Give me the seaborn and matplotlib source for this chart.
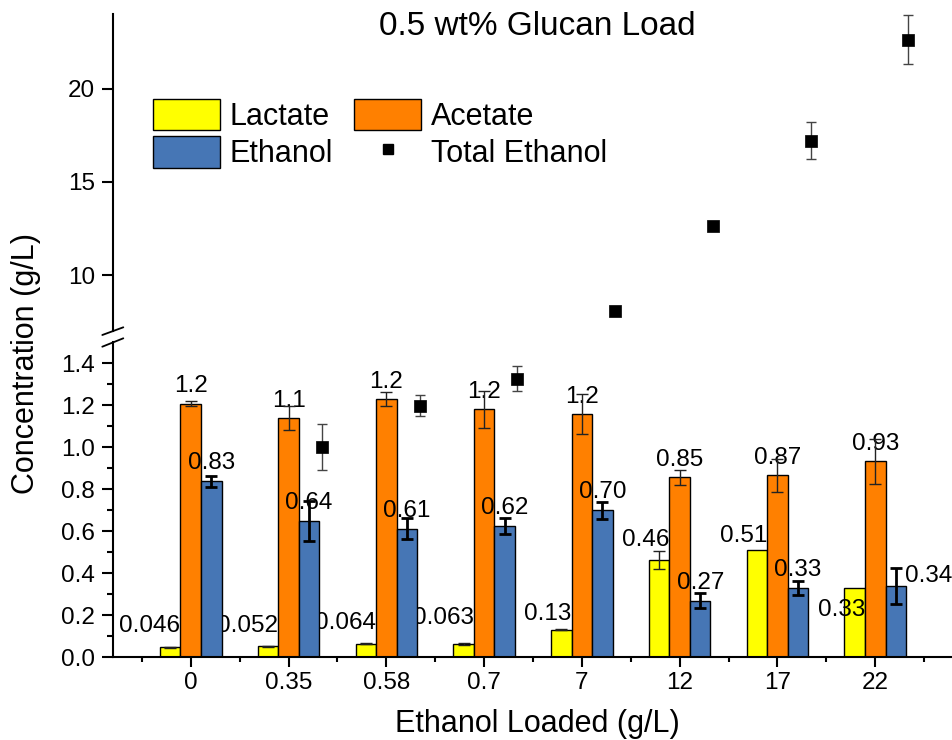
import numpy as np
import pandas as pd
import matplotlib
matplotlib.use("Agg")
import matplotlib.pyplot as plt
from matplotlib.patches import Patch
from matplotlib.lines import Line2D
import seaborn as sns

# ---------------- data ----------------
categories = ['0', '0.35', '0.58', '0.7', '7', '12', '17', '22']
lactate = [0.046, 0.052, 0.064, 0.063, 0.13, 0.46, 0.51, 0.33]
lactate_err = [0.003, 0.002, 0.003, 0.006, 0.003, 0.043, 0.0, 0.0]
acetate = [1.207, 1.137, 1.227, 1.180, 1.156, 0.855, 0.866, 0.931]
acetate_err = [0.013, 0.058, 0.034, 0.089, 0.096, 0.034, 0.078, 0.109]
ethanol = [0.836, 0.646, 0.610, 0.624, 0.698, 0.268, 0.330, 0.339]
ethanol_err = [0.026, 0.095, 0.050, 0.037, 0.041, 0.037, 0.034, 0.087]
total_ethanol = [np.nan, 1.00, 1.197, 1.325, 8.06, 12.63, 17.2, 22.63]
total_ethanol_err = [np.nan, 0.11, 0.05, 0.06, 0.0, 0.0, 1.0, 1.3]

lactate_labels = ['0.046', '0.052', '0.064', '0.063', '0.13', '0.46', '0.51', '0.33']
acetate_labels = ['1.2', '1.1', '1.2', '1.2', '1.2', '0.85', '0.87', '0.93']
ethanol_labels = ['0.83', '0.64', '0.61', '0.62', '0.70', '0.27', '0.33', '0.34']

species = ['Lactate', 'Acetate', 'Ethanol']
colors = ['#FFFF00', '#FF8000', '#4676B5']

# label offsets (pixels) - style only
lac_dy = [15, 14, 15, 20, 10, 14, 8, -28]

# ---------------- style ----------------
sns.set_style("ticks")
plt.rcParams['font.family'] = ['Liberation Sans', 'DejaVu Sans']
plt.rcParams['axes.linewidth'] = 1.5
for k in ['text.color', 'axes.labelcolor', 'xtick.color', 'ytick.color', 'axes.edgecolor']:
    plt.rcParams[k] = 'black'
PX = 0.72  # points per pixel at dpi 100

W, H = 953, 740
fig = plt.figure(figsize=(W / 100, H / 100), dpi=100)

left = 113 / W
width = 1.0 - left + 0.001
ax_top = fig.add_axes([left, 1 - 331 / H, width, (331 - 14) / H])
ax_bot = fig.add_axes([left, 1 - 657 / H, width, (657 - 342) / H])

df = pd.DataFrame({
    'Ethanol Loaded': categories * 3,
    'Concentration': lactate + acetate + ethanol,
    'Species': [s for s in species for _ in categories],
})

sns.barplot(data=df, x='Ethanol Loaded', y='Concentration', hue='Species',
            order=categories, hue_order=species, palette=colors, width=0.63,
            saturation=1, edgecolor='black', linewidth=1.0, errorbar=None,
            legend=False, ax=ax_bot)

# bar centers from the drawn patches
bars = [p for p in ax_bot.patches if p.get_height() > 0]
bars = sorted(bars, key=lambda p: p.get_x())
centers = np.array([p.get_x() + p.get_width() / 2 for p in bars]).reshape(len(categories), 3)
bw = bars[0].get_width()
for j, p in enumerate(bars):
    p.set_zorder(1.0 if j % 3 == 0 else 2.0)

# error bars
err_specs = [
    (lactate, lactate_err, 0, '#222222', 1.0),
    (acetate, acetate_err, 1, '#222222', 1.0),
    (ethanol, ethanol_err, 2, '#000000', 2.0),
]
for vals, errs, k, c, lw in err_specs:
    vals = np.array(vals); errs = np.array(errs)
    m = errs > 0
    ax_bot.errorbar(centers[m, k], vals[m], yerr=errs[m], fmt='none', ecolor=c,
                    elinewidth=lw, capsize=4.3, capthick=lw, zorder=4)

# total ethanol squares on both axes
te = np.array(total_ethanol); tee = np.array(total_ethanol_err)
xs = np.arange(len(categories)) + 0.34
for ax in (ax_top, ax_bot):
    m = ~np.isnan(te) & (tee > 0)
    ax.errorbar(xs[m], te[m], yerr=tee[m], fmt='none', ecolor='#444444',
                elinewidth=1.0, capsize=3.6, capthick=1.0, zorder=4)
    sns.scatterplot(x=xs, y=te, marker='s', s=72, color='black',
                    edgecolor='black', linewidth=0.5, ax=ax, zorder=5, legend=False)

# data labels
fs_lab = 17.5
for i in range(len(categories)):
    ax_bot.annotate(lactate_labels[i], xy=(centers[i, 0] + bw / 2, lactate[i]),
                    xytext=(0, lac_dy[i] * PX), textcoords='offset points',
                    ha='right', va='baseline', fontsize=fs_lab, zorder=1.5)
    ax_bot.annotate(acetate_labels[i], xy=(centers[i, 1], acetate[i]),
                    xytext=(0, 11.5 * PX), textcoords='offset points',
                    ha='center', va='baseline', fontsize=fs_lab, zorder=3)
    if i == len(categories) - 1:
        ax_bot.annotate(ethanol_labels[i], xy=(centers[i, 2] + bw / 2, ethanol[i]),
                        xytext=(-1.5 * PX, 4 * PX), textcoords='offset points',
                        ha='left', va='baseline', fontsize=fs_lab, zorder=3,
                        annotation_clip=False)
    else:
        ax_bot.annotate(ethanol_labels[i], xy=(centers[i, 2], ethanol[i]),
                        xytext=(0, 12 * PX), textcoords='offset points',
                        ha='center', va='baseline', fontsize=fs_lab, zorder=3)

# axes limits / ticks
for ax in (ax_top, ax_bot):
    ax.set_xlim(-0.795, 7.805)
    ax.set_xlabel('')
    ax.set_ylabel('')
    ax.set_facecolor('none')
    ax.spines['top'].set_visible(False)
    ax.spines['right'].set_visible(False)

ax_bot.set_ylim(0, 1.5)
ax_bot.set_yticks(np.arange(0, 1.41, 0.2))
ax_bot.set_yticklabels([f'{v:.1f}' for v in np.arange(0, 1.41, 0.2)])
ax_bot.set_yticks(np.arange(0.1, 1.5, 0.2), minor=True)
ax_bot.set_xticks(range(len(categories)))
ax_bot.set_xticklabels(categories)
ax_bot.set_xticks(np.arange(-0.5, 8, 1.0), minor=True)
ax_bot.tick_params(axis='y', which='major', direction='out', length=8, width=1.5,
                   labelsize=17.5, pad=5)
ax_bot.tick_params(axis='y', which='minor', direction='out', length=4.5, width=1.5)
ax_bot.tick_params(axis='x', which='major', direction='out', length=7, width=1.5,
                   labelsize=17.5, pad=4)
ax_bot.tick_params(axis='x', which='minor', direction='out', length=3.6, width=1.5)

ax_top.set_ylim(7, 24)
ax_top.set_yticks([10, 15, 20])
ax_top.set_yticklabels(['10', '15', '20'])
ax_top.spines['bottom'].set_visible(False)
ax_top.tick_params(axis='x', which='both', bottom=False, labelbottom=False)
ax_top.tick_params(axis='y', which='major', direction='out', length=8, width=1.5,
                   labelsize=17.5, pad=5)

# axis break marks
for (x0, y0, x1, y1) in [(102.3, 335.0, 123.3, 327.3), (102.3, 346.7, 123.3, 338.3)]:
    fig.add_artist(Line2D([x0 / W, x1 / W], [1 - y0 / H, 1 - y1 / H],
                          color='black', lw=1.3, transform=fig.transFigure))

# texts
fig.text(537.5 / W, 1 - 35 / H, '0.5 wt% Glucan Load', ha='center', va='baseline',
         fontsize=24)
fig.text(537 / W, 1 - 732 / H, 'Ethanol Loaded (g/L)', ha='center', va='baseline',
         fontsize=22)
fig.text(26.3 / W, 1 - 363.5 / H, 'Concentration (g/L)', ha='center', va='center',
         rotation=90, fontsize=22)

# legend
handles = [
    Patch(facecolor=colors[0], edgecolor='black', linewidth=1.0),
    Patch(facecolor=colors[2], edgecolor='black', linewidth=1.0),
    Patch(facecolor=colors[1], edgecolor='black', linewidth=1.0),
    Line2D([], [], marker='s', color='black', linestyle='none', markersize=7),
]
labels = ['Lactate', 'Ethanol', 'Acetate', 'Total Ethanol']
fig.legend(handles, labels, ncol=2, loc='upper left',
           bbox_to_anchor=(153 / W, 1 - 99 / H), frameon=False, fontsize=22,
           handlelength=2.2, handleheight=1.2, handletextpad=0.3,
           columnspacing=0.7, labelspacing=0.14, borderpad=0, borderaxespad=0)

fig.savefig('out.png', dpi=100)
